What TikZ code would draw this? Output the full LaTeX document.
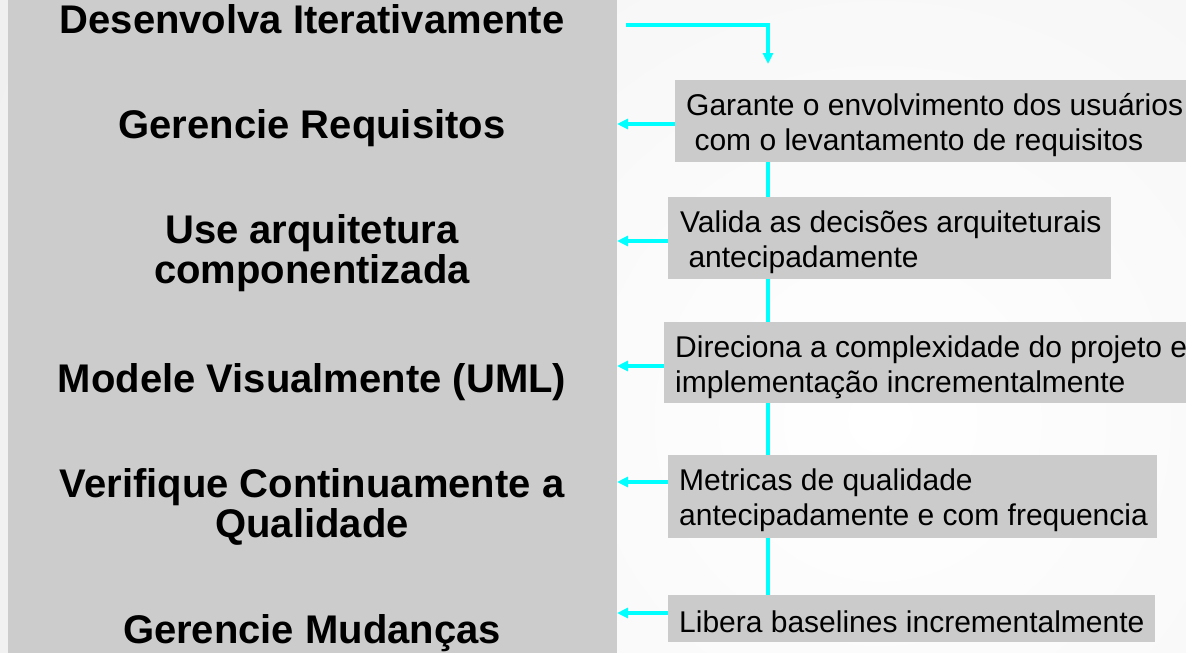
\documentclass[tikz,border=0pt]{standalone}
\usepackage{fontspec}
\setmainfont{Liberation Sans}
\usetikzlibrary{arrows.meta}
\definecolor{panelgray}{HTML}{CCCCCC}
\definecolor{boxgray}{HTML}{CBCBCB}
\definecolor{cyanline}{HTML}{00FFFF}
\definecolor{bgout}{HTML}{E0E0E0}
\tikzset{
 panel/.style={fill=panelgray, draw=none, inner sep=0pt, outer sep=0pt, anchor=north west},
 box/.style={fill=boxgray, draw=none, inner sep=0pt, outer sep=0pt, anchor=north west},
 ltxt/.style={inner sep=0pt, anchor=base, font=\fontsize{40}{40}\selectfont\bfseries},
 rtxt/.style={inner sep=0pt, anchor=base west, font=\fontsize{30}{35.5}\selectfont},
 conn/.style={draw=cyanline, line width=3.5pt},
 arr/.style={conn, -{Triangle[length=11pt,width=10pt]}},
}
\newcommand{\mylt}[1]{\parbox[t]{600pt}{\centering #1}}
\newcommand{\myrt}[1]{\parbox[t]{520pt}{\raggedright #1}}
\begin{document}
\begin{tikzpicture}[x=1pt,y=-1pt]
\useasboundingbox (0,0) rectangle (1186,653);
% background
\begin{scope}
\clip (0,0) rectangle (1186,653);
\shade[inner color=white, outer color=bgout] (880,420) circle (2000pt);
\end{scope}
% left panel
\node[panel, minimum width=609pt, minimum height=653pt] (panel) at (8,0) {};
% left texts
\node[ltxt] (l0) at (312,33) {\mylt{Desenvolva Iterativamente}};
\node[ltxt] (l1) at (312,138) {\mylt{Gerencie Requisitos}};
\node[ltxt] (l2) at (312,243) {\mylt{Use arquitetura\\componentizada}};
\node[ltxt] (l3) at (312,392) {\mylt{Modele Visualmente (UML)}};
\node[ltxt] (l4) at (312,497) {\mylt{Verifique Continuamente a\\Qualidade}};
\node[ltxt] (l5) at (312,643) {\mylt{Gerencie Mudanças}};
% right boxes
\node[box, minimum width=511pt, minimum height=82pt] (b1) at (675,80) {};
\node[box, minimum width=443pt, minimum height=82pt] (b2) at (668,197) {};
\node[box, minimum width=522pt, minimum height=81pt] (b3) at (664,322) {};
\node[box, minimum width=489pt, minimum height=83pt] (b4) at (668,455) {};
\node[box, minimum width=487pt, minimum height=47pt] (b5) at (668,595) {};
% right texts
\node[rtxt] (t1) at (686,115) {\myrt{Garante o envolvimento dos usuários\\\hspace*{0.278em}com o levantamento de requisitos}};
\node[rtxt] (t2) at (680,232) {\myrt{Valida as decisões arquiteturais\\\hspace*{0.278em}antecipadamente}};
\node[rtxt] (t3) at (675,357) {\myrt{Direciona a complexidade do projeto e\\implementação incrementalmente}};
\node[rtxt] (t4) at (679,490) {\myrt{Metricas de qualidade\\antecipadamente e com frequencia}};
\node[rtxt] (t5) at (679,632) {\myrt{Libera baselines incrementalmente}};
% helper coordinates
\coordinate (vx) at (768,0);
\coordinate (s0) at (626,25);
\coordinate (y1) at (0,124);
\coordinate (y2) at (0,241);
\coordinate (y3) at (0,366);
\coordinate (y4) at (0,482);
\coordinate (y5) at (0,613);
% vertical chain
\draw[conn] (b1.south -| vx) -- (b2.north -| vx);
\draw[conn] (b2.south -| vx) -- (b3.north -| vx);
\draw[conn] (b3.south -| vx) -- (b4.north -| vx);
\draw[conn] (b4.south -| vx) -- (b5.north -| vx);
% top arrow
\draw[arr, shorten >=16pt] (s0) -| (vx |- b1.north);
% left arrows
\draw[arr] (b1.west |- y1) -- (panel.east |- y1);
\draw[arr] (b2.west |- y2) -- (panel.east |- y2);
\draw[arr] (b3.west |- y3) -- (panel.east |- y3);
\draw[arr] (b4.west |- y4) -- (panel.east |- y4);
\draw[arr] (b5.west |- y5) -- (panel.east |- y5);
\end{tikzpicture}
\end{document}
